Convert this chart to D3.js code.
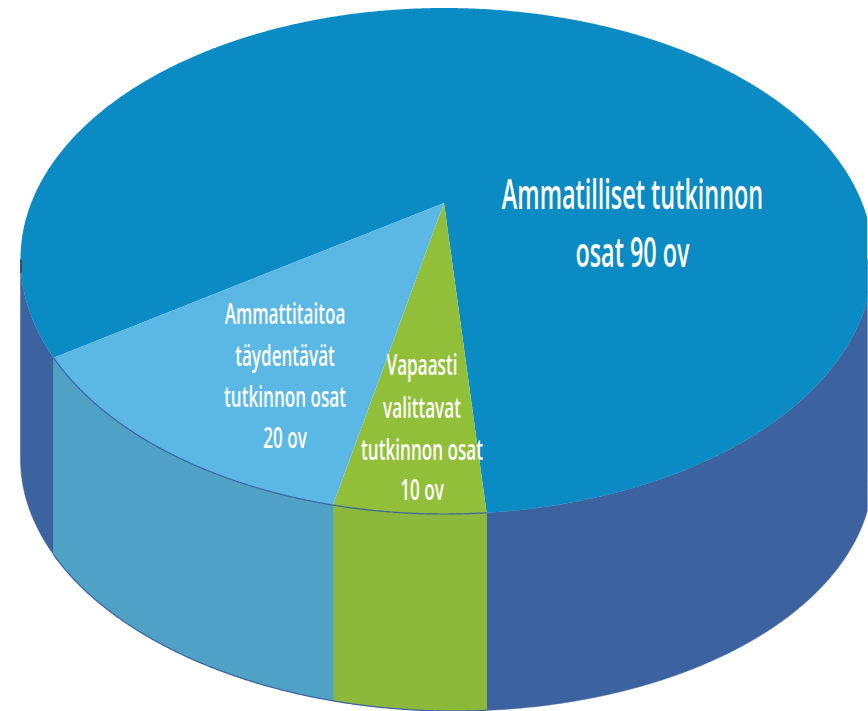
<!DOCTYPE html>
<html><head><meta charset="utf-8">
<script src="https://cdn.jsdelivr.net/npm/d3@7"></script>
<style>html,body{margin:0;padding:0;background:#fff}svg{display:block}</style>
</head><body><svg id="c" width="868" height="711"></svg>
<script>
// Data
const categories = ["Ammatilliset tutkinnon osat", "Vapaasti valittavat tutkinnon osat", "Ammattitaitoa täydentävät tutkinnon osat"];
const credits = [90, 10, 20];
// Share of the rim each slice occupies as drawn (degrees)
const drawnShares = [287.1, 20.9, 52];
const labelLines = [
  ["Ammatilliset tutkinnon", "osat 90 ov"],
  ["Vapaasti", "valittavat", "tutkinnon osat", "10 ov"],
  ["Ammattitaitoa", "täydentävät", "tutkinnon osat", "20 ov"]
];
const topColors = ["#0a8bc4", "#92bf39", "#5bb8e5"];
const sideColors = ["#3c62a0", "#8cb83b", "#4fa1c6"];

// Layout
const W = 868, H = 711;
const cx = 444, cy = 259, rxLeft = 423.5, rxRight = 429, cropRight = 867.3, ryFront = 255, ryBack = 251;
const baseCy = 465, baseRy = 246, baseTilt = 6;
const apex = [444, 203];
const startDeg = 247.2;
const labelLayout = [
  {x: 632.5, baselines: [209, 267], size: 42, k: 0.557},
  {x: 422, baselines: [375, 418, 460, 500], size: 29, k: 0.59},
  {x: 285, baselines: [324, 366, 407, 448], size: 29, k: 0.59}
];

const svg = d3.select("#c");
const px = t => { const s = Math.sin(t); return Math.min(cropRight, cx + (s > 0 ? rxRight : rxLeft) * s); };
const py = t => { const c = Math.cos(t); return cy - (c > 0 ? ryBack : ryFront) * c; };
const pyBase = t => baseCy - baseRy * Math.cos(t) + baseTilt * Math.sin(t);
const arcs = d3.pie().sort(null).value(d => d)
  .startAngle(startDeg * Math.PI / 180)
  .endAngle((startDeg + 360) * Math.PI / 180)(drawnShares);

const line = d3.line();
const samples = a => {
  const n = Math.max(2, Math.ceil((a.endAngle - a.startAngle) / 0.005));
  return d3.range(n + 1).map(i => a.startAngle + (a.endAngle - a.startAngle) * i / n);
};
// The front half of the rim, in the two turns the slices run through
const frontHalves = [[Math.PI / 2, 3 * Math.PI / 2], [5 * Math.PI / 2, 7 * Math.PI / 2]];
const frontParts = a => frontHalves
  .map(([lo, hi]) => ({startAngle: Math.max(lo, a.startAngle), endAngle: Math.min(hi, a.endAngle), index: a.index}))
  .filter(p => p.endAngle > p.startAngle);

const g = svg.append("g");
// Walls
g.selectAll("path.side").data(arcs.flatMap(frontParts)).join("path").attr("class", "side")
  .attr("fill", d => sideColors[d.index])
  .attr("stroke", d => sideColors[d.index]).attr("stroke-width", 0.5)
  .attr("d", d => {
    const ts = samples(d);
    return line(ts.map(t => [px(t), py(t)]).concat(ts.slice().reverse().map(t => [px(t), pyBase(t)]))) + "Z";
  });
// Top
g.selectAll("path.top").data(arcs).join("path").attr("class", "top")
  .attr("fill", (d, i) => topColors[i])
  .attr("d", d => line([apex].concat(samples(d).map(t => [px(t), py(t)]))) + "Z");
// Thin rim lines on the front edge
const frontArc = {startAngle: arcs[1].startAngle, endAngle: arcs[2].endAngle};
[py, pyBase].forEach(fy => {
  const ts = samples(frontArc);
  g.append("path").attr("fill", "none").attr("stroke", "#3c62a0").attr("stroke-width", 1.2)
    .attr("d", line(ts.map(t => [px(t), fy(t)])));
});
// Small dark mark at the far left of the rim
g.append("path").attr("stroke", "#3a3f4a").attr("stroke-width", 1.5).attr("fill", "none")
  .attr("d", line([[21, 260], [21, 273]]));

// Labels
labelLines.forEach((lines, i) => {
  const L = labelLayout[i];
  lines.forEach((s, j) => {
    svg.append("text")
      .attr("transform", `translate(${L.x},${L.baselines[j]}) scale(${L.k},1)`)
      .attr("text-anchor", "middle")
      .attr("font-family", "'Open Sans', sans-serif")
      .attr("font-size", L.size)
      .attr("font-weight", 600)
      .attr("fill", "#fff")
      .text(s);
  });
});
</script></body></html>
